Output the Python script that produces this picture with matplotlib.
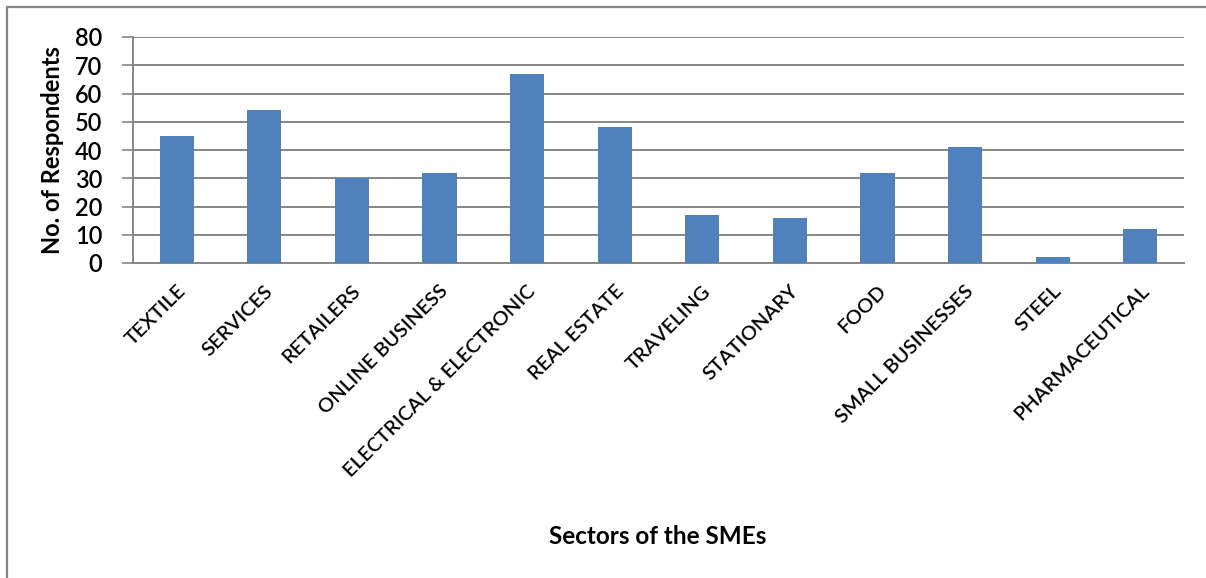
import matplotlib
matplotlib.use("Agg")
import matplotlib.pyplot as plt
from matplotlib.patches import Rectangle

# Répondants par secteur d'activité des PME
secteurs = ["TEXTILE", "SERVICES", "RETAILERS", "ONLINE BUSINESS",
            "ELECTRICAL & ELECTRONIC", "REAL ESTATE", "TRAVELING",
            "STATIONARY", "FOOD", "SMALL BUSINESSES", "STEEL",
            "PHARMACEUTICAL"]
repondants = [45, 54, 30, 32, 67, 48, 17, 16, 32, 41, 2, 12]
graduations = [0, 10, 20, 30, 40, 50, 60, 70, 80]

plt.rcParams['font.family'] = ['Lato', 'DejaVu Sans']

W, H = 1206, 578
fig = plt.figure(figsize=(W / 100, H / 100), dpi=100)
ax = fig.add_axes([133 / W, 1 - 263 / H, (1184 - 133) / W, (263 - 37) / H])

x = list(range(len(secteurs)))
ax.bar(x, repondants, width=0.39, color='#4F81BD', zorder=3)

ax.set_xlim(-0.5, len(secteurs) - 0.5)
ax.set_ylim(0, 80)
ax.set_yticks(graduations)
ax.set_yticklabels([str(g) for g in graduations], fontsize=17, fontweight=600)
ax.tick_params(axis='y', length=8, color='#868686', width=1.2, pad=14)
ax.tick_params(axis='x', length=0, pad=14)
ax.set_xticks(x)
ax.set_xticklabels(secteurs, rotation=45, ha='right', va='top',
                   rotation_mode='anchor', fontsize=14.5, fontweight=600)

ax.grid(axis='y', color='#868686', linewidth=1.4, zorder=0)
for cote in ['top', 'right']:
    ax.spines[cote].set_visible(False)
for cote in ['left', 'bottom']:
    ax.spines[cote].set_color('#868686')
    ax.spines[cote].set_linewidth(1.4)

ax.set_ylabel("No. of Respondents", fontsize=17, fontweight='bold', labelpad=8)
fig.text(658 / W, 1 - 537 / H, "Sectors of the SMEs", fontsize=17.5,
         fontweight='bold', ha='center', va='center')

# cadre autour du graphique
fig.patches.append(Rectangle((7 / W, -0.1), 1.2, 1 - 7 / H + 0.1,
                             transform=fig.transFigure, fill=False,
                             edgecolor='#868686', linewidth=1.6))

fig.savefig("out.png", dpi=100)
